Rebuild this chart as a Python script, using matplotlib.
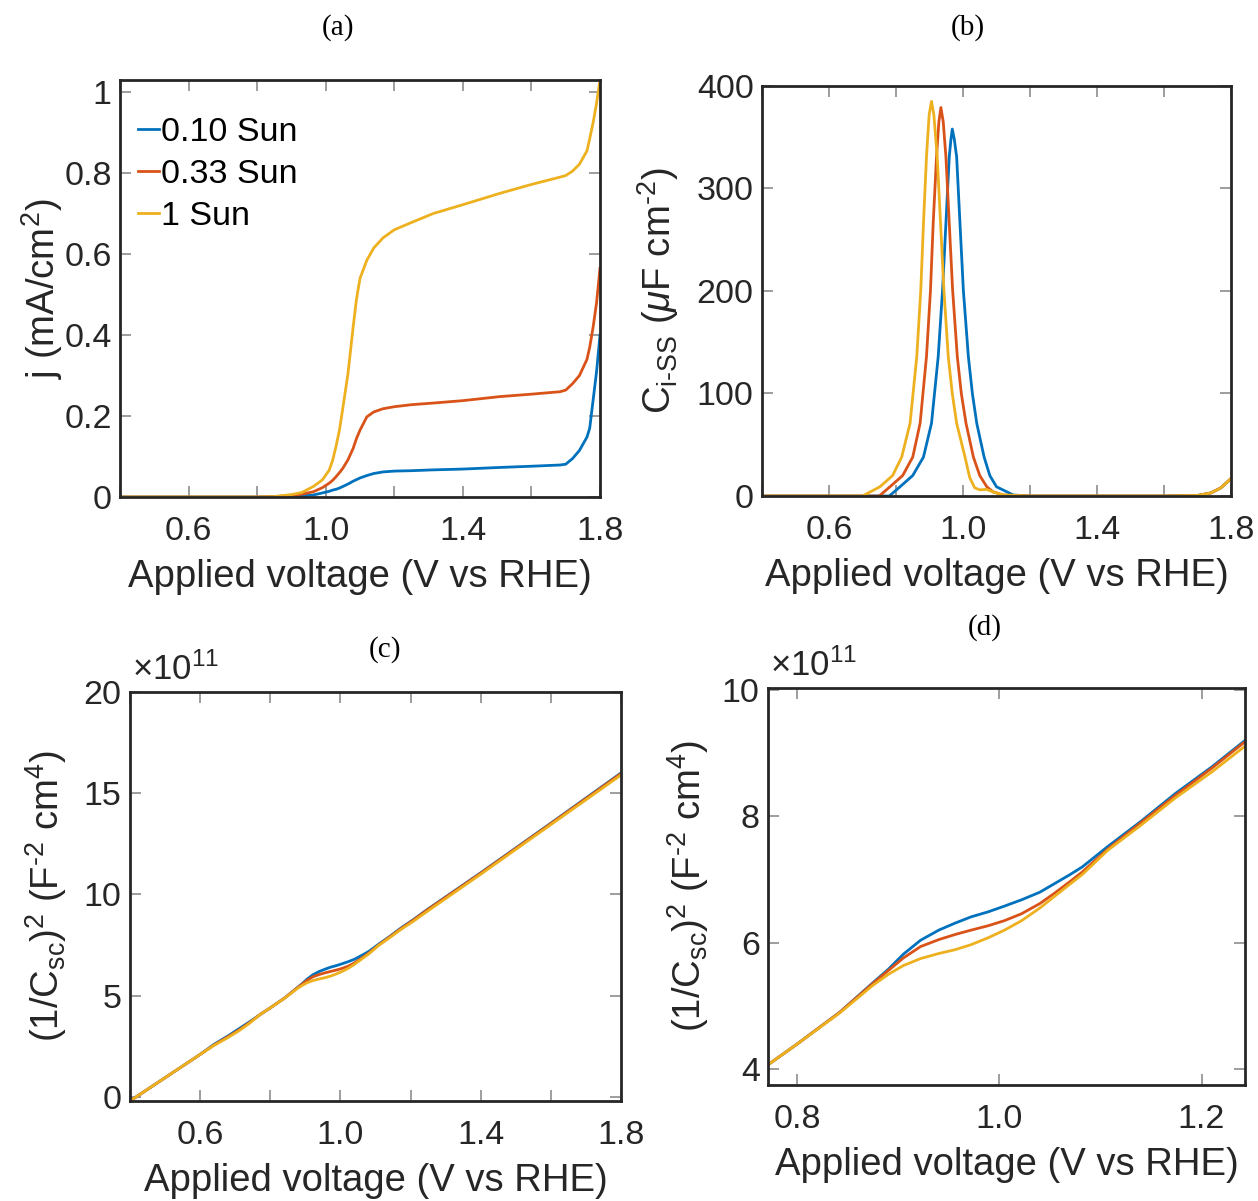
import numpy as np
import matplotlib
matplotlib.use("Agg")
import matplotlib.pyplot as plt

plt.rcParams['font.family'] = ['Liberation Sans', 'DejaVu Sans']
plt.rcParams['mathtext.fontset'] = 'custom'
plt.rcParams['mathtext.rm'] = 'Liberation Sans'
plt.rcParams['mathtext.it'] = 'Liberation Sans:italic'
plt.rcParams['mathtext.bf'] = 'Liberation Sans:bold'

# -----------------------------
# Data
# -----------------------------
labels = ['0.10 Sun', '0.33 Sun', '1 Sun']
colors = ['#0072BD', '#D95319', '#EDB120']

# (a) current density j (mA/cm^2) vs applied voltage
v_jv = [0.40, 0.80, 0.85, 0.90, 0.93, 0.964, 0.99, 1.01, 1.02, 1.03, 1.04, 1.05, 1.065,
        1.08, 1.09, 1.10, 1.12, 1.14, 1.167, 1.20, 1.25, 1.313, 1.40, 1.508, 1.60,
        1.683, 1.70, 1.72, 1.74, 1.762, 1.77, 1.78, 1.79, 1.80]
j_010 = [0, 0, 0.001, 0.002, 0.003, 0.005, 0.010, 0.014, 0.017, 0.019, 0.022, 0.026, 0.032,
         0.039, 0.043, 0.047, 0.053, 0.058, 0.062, 0.064, 0.065, 0.067, 0.069, 0.073, 0.076,
         0.079, 0.081, 0.095, 0.115, 0.148, 0.170, 0.240, 0.310, 0.400]
j_033 = [0, 0, 0.001, 0.004, 0.007, 0.013, 0.023, 0.034, 0.041, 0.050, 0.060, 0.071, 0.092,
         0.120, 0.145, 0.165, 0.198, 0.210, 0.218, 0.223, 0.228, 0.232, 0.238, 0.248, 0.254,
         0.260, 0.264, 0.280, 0.300, 0.340, 0.370, 0.420, 0.480, 0.565]
j_100 = [0, 0, 0.001, 0.006, 0.011, 0.026, 0.042, 0.066, 0.090, 0.125, 0.165, 0.220, 0.305,
         0.420, 0.490, 0.540, 0.585, 0.615, 0.640, 0.660, 0.678, 0.700, 0.722, 0.750, 0.772,
         0.790, 0.794, 0.805, 0.822, 0.855, 0.885, 0.925, 0.973, 1.030]

# (b) surface state capacitance C_i-SS (uF cm^-2)
v_c010 = [0.40, 0.78, 0.812, 0.85, 0.882, 0.906, 0.926, 0.939, 0.949, 0.959, 0.964, 0.968,
          0.974, 0.981, 0.991, 1.001, 1.016, 1.028, 1.041, 1.063, 1.08, 1.10, 1.15, 1.20,
          1.60, 1.70, 1.74, 1.77, 1.80]
c_010 = [0, 0, 9, 20, 38, 71, 136, 201, 266, 331, 348, 358,
         348, 331, 266, 201, 136, 100, 71, 38, 20, 9, 1, 0,
         0, 0.5, 3, 8, 17]
v_c033 = [0.40, 0.75, 0.782, 0.82, 0.850, 0.872, 0.891, 0.903, 0.911, 0.921, 0.928, 0.934,
          0.941, 0.949, 0.959, 0.969, 0.983, 0.995, 1.009, 1.031, 1.05, 1.071, 1.09, 1.12,
          1.20, 1.60, 1.70, 1.74, 1.77, 1.80]
c_033 = [0, 0, 9, 20, 38, 71, 136, 201, 266, 331, 365, 379,
         365, 331, 266, 201, 136, 100, 71, 38, 20, 9, 4, 1,
         0, 0, 0.5, 3, 8, 17]
v_c100 = [0.40, 0.70, 0.752, 0.79, 0.817, 0.842, 0.862, 0.874, 0.882, 0.891, 0.899, 0.906,
          0.913, 0.923, 0.933, 0.943, 0.956, 0.968, 0.981, 1.006, 1.02, 1.035, 1.05, 1.07,
          1.09, 1.12, 1.20, 1.60, 1.70, 1.74, 1.77, 1.80]
c_100 = [0, 0, 9, 20, 38, 71, 136, 201, 266, 331, 372, 385,
         372, 331, 266, 201, 136, 100, 71, 38, 18, 8, 6, 6.5,
         4, 1, 0, 0, 0.5, 3, 8, 17]

# (c)/(d) Mott-Schottky (1/Csc)^2 in units of 1e11 F^-2 cm^4
v_ms = [0.40, 0.50, 0.60, 0.64, 0.68, 0.71, 0.74, 0.771, 0.80, 0.842, 0.875, 0.89,
        0.905, 0.922, 0.94, 0.956, 0.972, 0.989, 1.005, 1.022, 1.04, 1.055, 1.07, 1.082,
        1.107, 1.14, 1.174, 1.21, 1.243, 1.40, 1.60, 1.80]
ms_010 = [-0.2, 0.95, 2.10, 2.60, 3.02, 3.36, 3.70, 4.07, 4.40, 4.90, 5.37, 5.58,
          5.82, 6.04, 6.20, 6.31, 6.41, 6.49, 6.58, 6.68, 6.80, 6.94, 7.08, 7.20,
          7.52, 7.92, 8.36, 8.78, 9.20, 11.07, 13.52, 16.00]
ms_033 = [-0.2, 0.95, 2.10, 2.57, 2.98, 3.30, 3.66, 4.07, 4.40, 4.90, 5.36, 5.56,
          5.76, 5.94, 6.05, 6.13, 6.20, 6.27, 6.35, 6.46, 6.62, 6.79, 6.97, 7.12,
          7.48, 7.90, 8.33, 8.76, 9.18, 11.05, 13.50, 15.97]
ms_100 = [-0.2, 0.95, 2.10, 2.55, 2.94, 3.26, 3.63, 4.07, 4.40, 4.89, 5.33, 5.50,
          5.64, 5.75, 5.83, 5.89, 5.97, 6.08, 6.20, 6.35, 6.55, 6.74, 6.93, 7.08,
          7.46, 7.86, 8.29, 8.70, 9.11, 11.00, 13.45, 15.90]

xlabel = 'Applied voltage (V vs RHE)'
ms_label = r'(1/C$_{\rm sc}$)$^2$ (F$^{\text{-2}}$ cm$^4$)'

# -----------------------------
# Figure
# -----------------------------
fig = plt.figure(figsize=(12.58, 12.01), dpi=100)
W, H = 1258, 1201
TICK_FS = 24.5
LABEL_FS = 27.5


def make_ax(left, right, top, bottom):
    return fig.add_axes([left / W, 1 - bottom / H, (right - left) / W, (bottom - top) / H])


def style(ax):
    for s in ax.spines.values():
        s.set_linewidth(2.0)
        s.set_color('#262626')
    ax.tick_params(direction='in', length=8, width=1.2, color='#8c8c8c',
                   labelsize=TICK_FS, labelcolor='#262626', top=True, right=True)
    ax.tick_params(axis='x', pad=14)
    ax.tick_params(axis='y', pad=6)


ax_a = make_ax(120, 600, 80, 497)
ax_b = make_ax(762, 1231, 86, 496)
ax_c = make_ax(130, 621, 692, 1101)
ax_d = make_ax(768, 1245, 688, 1085)

vticks = [0.4, 0.6, 0.8, 1.0, 1.2, 1.4, 1.6, 1.8]
vtlabels = ['', '0.6', '', '1.0', '', '1.4', '', '1.8']

# (a)
for jj, c, lab in zip([j_010, j_033, j_100], colors, labels):
    ax_a.plot(v_jv, jj, color=c, lw=2.0, label=lab)
ax_a.set_xlim(0.4, 1.8)
ax_a.set_ylim(0, 1.03)
ax_a.set_xticks(vticks)
ax_a.set_xticklabels(vtlabels)
ax_a.set_yticks([0, 0.2, 0.4, 0.6, 0.8, 1.0])
ax_a.set_yticklabels(['0', '0.2', '0.4', '0.6', '0.8', '1'])
ax_a.set_ylabel(r'j (mA/cm$^2$)', fontsize=LABEL_FS)
ax_a.yaxis.set_label_coords(-0.115, 0.5)
ax_a.legend(loc='upper left', frameon=False, fontsize=TICK_FS, handlelength=0.6,
            handletextpad=0.05, labelspacing=0.33, borderaxespad=0.0,
            bbox_to_anchor=(0.01, 0.945))
style(ax_a)

# (b)
for vv, cc, c in zip([v_c010, v_c033, v_c100], [c_010, c_033, c_100], colors):
    ax_b.plot(vv, cc, color=c, lw=2.0)
ax_b.set_xlim(0.4, 1.8)
ax_b.set_ylim(0, 400)
ax_b.set_xticks(vticks)
ax_b.set_xticklabels(vtlabels)
ax_b.set_yticks([0, 100, 200, 300, 400])
ax_b.set_ylabel(r'C$_{\rm i\text{-}SS}$ ($\mu$F cm$^{\text{-2}}$)', fontsize=LABEL_FS)
ax_b.yaxis.set_label_coords(-0.172, 0.5)
style(ax_b)

# (c) and (d) share the same Mott-Schottky data
for ax in (ax_c, ax_d):
    for mm, c in zip([ms_010, ms_033, ms_100], colors):
        ax.plot(v_ms, mm, color=c, lw=2.0)
    ax.set_ylabel(ms_label, fontsize=LABEL_FS)

ax_c.set_xlim(0.4, 1.8)
ax_c.set_ylim(-0.2, 20)
ax_c.set_xticks(vticks)
ax_c.set_xticklabels(vtlabels)
ax_c.set_yticks([0, 5, 10, 15, 20])
ax_c.yaxis.set_label_coords(-0.125, 0.5)
style(ax_c)

ax_d.set_xlim(0.771, 1.243)
ax_d.set_ylim(3.75, 10.03)
ax_d.set_xticks([0.8, 1.0, 1.2])
ax_d.set_xticklabels(['0.8', '1.0', '1.2'])
ax_d.set_yticks([4, 6, 8, 10])
ax_d.yaxis.set_label_coords(-0.12, 0.5)
style(ax_d)

for ax in (ax_a, ax_b, ax_c, ax_d):
    ax.set_xlabel(xlabel, fontsize=LABEL_FS, color='#262626', labelpad=8)
    ax.yaxis.label.set_color('#262626')

# exponent labels
for ax in (ax_c, ax_d):
    ax.text(0.005, 1.012, r'$\times10^{11}$', transform=ax.transAxes,
            fontsize=25, color='#262626', ha='left', va='bottom')

# panel titles
for x, y, t in [(338, 28, '(a)'), (968, 28, '(b)'), (385, 650, '(c)'), (985, 628, '(d)')]:
    fig.text(x / W, 1 - y / H, t, fontsize=21, family='Liberation Serif',
             ha='center', va='center')

fig.savefig('out.png', dpi=100)
